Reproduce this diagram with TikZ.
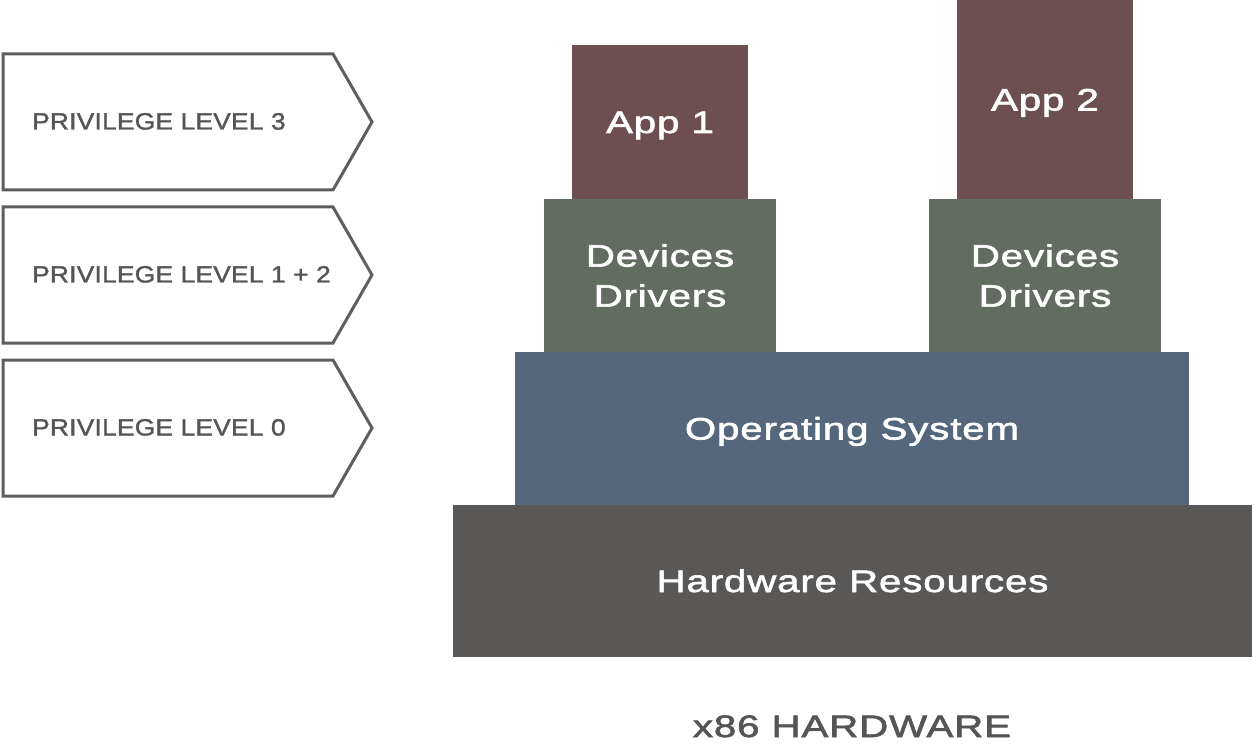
\documentclass[tikz,border=0pt]{standalone}
\usepackage{fontspec}
\setmainfont{Liberation Sans}
\newfontfamily\boxfont[FakeStretch=1.3, LetterSpace=2.7, FakeBold=2]{Liberation Sans}
\newfontfamily\lvlfont[FakeStretch=1.12, LetterSpace=1, FakeBold=1.5]{Liberation Sans}
\definecolor{appc}{HTML}{6E4F51}
\definecolor{ddc}{HTML}{626C60}
\definecolor{osc}{HTML}{54677C}
\definecolor{hwc}{HTML}{5A5856}
\definecolor{txtc}{HTML}{555555}
\definecolor{linec}{HTML}{5E5E5E}
\tikzset{
  layer/.style={fill=#1, draw=none, inner sep=0pt, text=white, align=center,
    font=\boxfont\fontsize{31}{40}\selectfont},
  oneline/.style={text height=22pt, text depth=0pt},
  lvl/.style={draw=linec, line width=3pt, line join=miter, fill=white},
  lvltext/.style={anchor=west, inner sep=0pt, text=txtc, text height=17pt, text depth=0pt,
    font=\lvlfont\fontsize{23.5}{26}\selectfont},
}
\begin{document}
\begin{tikzpicture}[x=1pt,y=-1pt]
\useasboundingbox (0,0) rectangle (1254,746);
% privilege level arrows
\draw[lvl] (3,54) -- (333,54) -- (372,122) -- (333,190) -- (3,190) -- cycle;
\node[lvltext] (l3) at (32,121) {PRIVILEGE LEVEL 3};
\draw[lvl] (3,207) -- (333,207) -- (372,275) -- (333,343) -- (3,343) -- cycle;
\node[lvltext] (l12) at (32,274) {PRIVILEGE LEVEL 1 + 2};
\draw[lvl] (3,360) -- (333,360) -- (372,428) -- (333,496) -- (3,496) -- cycle;
\node[lvltext] (l0) at (32,427) {PRIVILEGE LEVEL 0};
% stack
\node[layer=hwc, oneline, minimum width=799pt, minimum height=152pt] (hw) at (852.5,581) {Hardware Resources};
\node[layer=osc, oneline, minimum width=674pt, minimum height=153pt] (os) at (852,428.5) {Operating System};
\node[layer=ddc, minimum width=232pt, minimum height=153pt] (dd1) at (660,275.5) {Devices\\Drivers};
\node[layer=ddc, minimum width=232pt, minimum height=153pt] (dd2) at (1045,275.5) {Devices\\Drivers};
\node[layer=appc, oneline, minimum width=176pt, minimum height=154pt] (app1) at (660,122) {App 1};
\node[layer=appc, oneline, minimum width=176pt, minimum height=199pt] (app2) at (1045,99.5) {App 2};
\node[text=txtc, inner sep=0pt, text height=22pt, text depth=0pt, font=\boxfont\fontsize{31}{40}\selectfont] (x86) at (852,726) {x86 HARDWARE};
\end{tikzpicture}
\end{document}
